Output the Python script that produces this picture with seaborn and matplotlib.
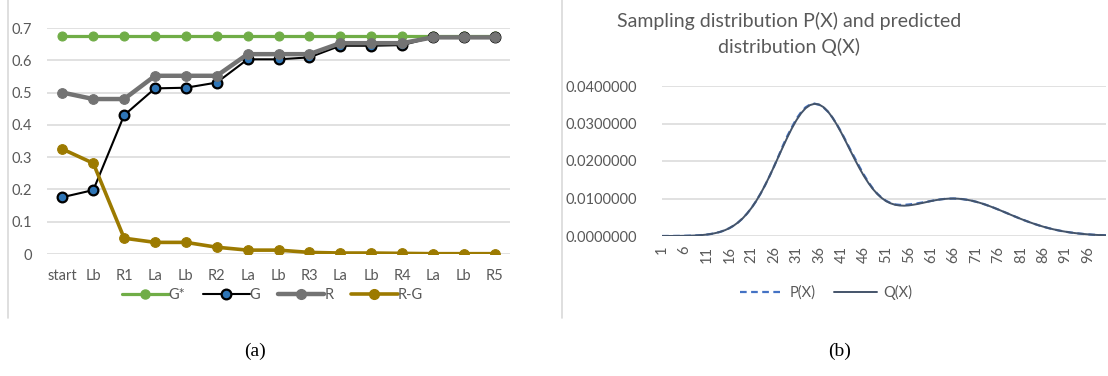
import matplotlib

matplotlib.use("Agg")
import matplotlib.pyplot as plt
import numpy as np
import pandas as pd
import seaborn as sns
from matplotlib.lines import Line2D

sns.set_theme(style="white")
plt.rcParams["font.family"] = ["Lato", "DejaVu Sans"]

# --- panel (a): optimisation stages ---------------------------------------
etapas = ["start", "Lb", "R1", "La", "Lb", "R2", "La", "Lb", "R3",
          "La", "Lb", "R4", "La", "Lb", "R5"]
g_star = [0.675] * 15
g = [0.176, 0.198, 0.430, 0.513, 0.515, 0.531, 0.603, 0.603, 0.609,
     0.645, 0.645, 0.647, 0.671, 0.671, 0.671]
r = [0.500, 0.480, 0.480, 0.552, 0.552, 0.552, 0.619, 0.619, 0.619,
     0.653, 0.653, 0.653, 0.671, 0.671, 0.671]
r_menos_g = [0.325, 0.281, 0.049, 0.036, 0.036, 0.021, 0.012, 0.012, 0.005,
             0.003, 0.003, 0.002, 0.001, 0.001, 0.001]

# --- panel (b): distributions ---------------------------------------------
x_dist = list(range(1, 101))
q_x = [0.00000, 0.00001, 0.00001, 0.00002, 0.00003, 0.00005, 0.00008, 0.00012, 0.00018, 0.00026,
       0.00039, 0.00056, 0.00080, 0.00111, 0.00153, 0.00208, 0.00278, 0.00365, 0.00472, 0.00603,
       0.00756, 0.00933, 0.01134, 0.01358, 0.01601, 0.01858, 0.02122, 0.02387, 0.02643, 0.02882,
       0.03094, 0.03271, 0.03406, 0.03491, 0.03525, 0.03507, 0.03437, 0.03319, 0.03159, 0.02966,
       0.02748, 0.02515, 0.02276, 0.02040, 0.01814, 0.01605, 0.01418, 0.01256, 0.01121, 0.01012,
       0.00928, 0.00870, 0.00832, 0.00813, 0.00808, 0.00816, 0.00833, 0.00854, 0.00880, 0.00906,
       0.00932, 0.00955, 0.00974, 0.00988, 0.00997, 0.00999, 0.00995, 0.00983, 0.00966, 0.00943,
       0.00914, 0.00880, 0.00841, 0.00798, 0.00753, 0.00705, 0.00655, 0.00605, 0.00554, 0.00505,
       0.00456, 0.00410, 0.00366, 0.00324, 0.00285, 0.00249, 0.00216, 0.00186, 0.00159, 0.00135,
       0.00114, 0.00095, 0.00079, 0.00066, 0.00054, 0.00044, 0.00035, 0.00028, 0.00023, 0.00018]
p_x = [0.00000, 0.00001, 0.00001, 0.00002, 0.00003, 0.00005, 0.00008, 0.00012, 0.00018, 0.00026,
       0.00039, 0.00056, 0.00080, 0.00111, 0.00153, 0.00208, 0.00278, 0.00365, 0.00472, 0.00603,
       0.00756, 0.00933, 0.01134, 0.01358, 0.01601, 0.01860, 0.02135, 0.02420, 0.02680, 0.02910,
       0.03130, 0.03300, 0.03430, 0.03505, 0.03530, 0.03500, 0.03430, 0.03315, 0.03160, 0.02975,
       0.02765, 0.02535, 0.02300, 0.02075, 0.01850, 0.01635, 0.01440, 0.01270, 0.01130, 0.01018,
       0.00935, 0.00878, 0.00842, 0.00830, 0.00830, 0.00840, 0.00855, 0.00872, 0.00893, 0.00913,
       0.00935, 0.00956, 0.00975, 0.00988, 0.00997, 0.00999, 0.00995, 0.00983, 0.00966, 0.00943,
       0.00914, 0.00880, 0.00841, 0.00798, 0.00753, 0.00705, 0.00655, 0.00605, 0.00554, 0.00505,
       0.00456, 0.00410, 0.00366, 0.00324, 0.00285, 0.00249, 0.00216, 0.00186, 0.00159, 0.00135,
       0.00114, 0.00095, 0.00079, 0.00066, 0.00054, 0.00044, 0.00035, 0.00028, 0.00023, 0.00018]

GRIS_TXT = "#595959"
GRIS_GRID = "#D9D9D9"

fig = plt.figure(figsize=(11.08, 3.76), dpi=100)

# marcos grises de las dos figuras de Excel
for xf in (8 / 1108, 562 / 1108):
    fig.add_artist(Line2D([xf, xf], [1 - 318 / 376, 1.0], color=GRIS_GRID, lw=1.2))

# ---------------- (a) ----------------
ax1 = fig.add_axes([47 / 1108, 1 - 254 / 376, 463 / 1108, 226 / 376])
pos = np.arange(len(etapas))
series = [
    ("G*", g_star, dict(color="#70AD47", lw=2.3, marker="o", ms=6.5,
                        markerfacecolor="#70AD47", markeredgecolor="#70AD47")),
    ("G", g, dict(color="black", lw=1.5, marker="o", ms=7,
                  markerfacecolor="#2E75B6", markeredgecolor="black", markeredgewidth=1.6)),
    ("R", r, dict(color="#737373", lw=3.2, marker="o", ms=7,
                  markerfacecolor="#737373", markeredgecolor="#737373")),
    ("R-G", r_menos_g, dict(color="#9C7A00", lw=2.6, marker="o", ms=7,
                            markerfacecolor="#9C7A00", markeredgecolor="#9C7A00")),
]
handles = []
for nombre, vals, estilo in series:
    sns.lineplot(x=pos, y=vals, ax=ax1, **estilo)
    handles.append(Line2D([], [], label=nombre, **estilo))

ax1.set_xlim(-0.5, len(etapas) - 0.5)
ax1.set_ylim(0, 0.7)
ax1.set_yticks(np.arange(0, 0.71, 0.1))
ax1.set_yticklabels(["0"] + [f"{v:.1f}" for v in np.arange(0.1, 0.71, 0.1)])
ax1.set_xticks(pos)
ax1.set_xticklabels(etapas)
ax1.yaxis.grid(True, color=GRIS_GRID, lw=1.1)
ax1.set_axisbelow(True)
for s in ax1.spines.values():
    s.set_visible(False)
ax1.tick_params(axis="x", length=0, pad=11, labelsize=10.5, labelcolor=GRIS_TXT)
ax1.tick_params(axis="y", length=0, pad=11, labelsize=10.5, labelcolor=GRIS_TXT)
ax1.legend(handles=handles, loc="center", bbox_to_anchor=(0.487, -0.18), ncol=4,
           frameon=False, handlelength=3.2, handletextpad=0.0, columnspacing=1.2,
           fontsize=10.5, labelcolor=GRIS_TXT)

# ---------------- (b) ----------------
ax2 = fig.add_axes([662 / 1108, 1 - 236 / 376, 444 / 1108, 150 / 376])
sns.lineplot(x=x_dist, y=p_x, ax=ax2, color="#4472C4", lw=1.6,
             linestyle=(0, (3, 2)), label="P(X)")
sns.lineplot(x=x_dist, y=q_x, ax=ax2, color="#44546A", lw=1.4, label="Q(X)")
ax2.set_xlim(1, 100)
ax2.set_ylim(0, 0.04)
ax2.set_yticks(np.arange(0, 0.0401, 0.01))
ax2.set_yticklabels([f"{v:.7f}" for v in np.arange(0, 0.0401, 0.01)])
ax2.set_xticks(list(range(1, 100, 5)))
ax2.set_xticklabels([str(v) for v in range(1, 100, 5)], rotation=90)
ax2.yaxis.grid(True, color=GRIS_GRID, lw=1.1)
ax2.set_axisbelow(True)
for s in ax2.spines.values():
    s.set_visible(False)
ax2.tick_params(axis="x", length=0, pad=7, labelsize=10.5, labelcolor=GRIS_TXT)
ax2.tick_params(axis="y", length=0, pad=18, labelsize=10.5, labelcolor=GRIS_TXT)
ax2.legend(loc="center", bbox_to_anchor=(0.37, -0.375), ncol=2, frameon=False,
           handlelength=3.0, handletextpad=0.4, columnspacing=1.2,
           fontsize=10.5, labelcolor=GRIS_TXT)
fig.text(789 / 1108, 1 - 34 / 376,
         "Sampling distribution P(X) and predicted\ndistribution Q(X)",
         ha="center", va="center", fontsize=14, color=GRIS_TXT, linespacing=1.5)

# captions
for xc, txt in ((255, "(a)"), (840, "(b)")):
    fig.text(xc / 1108, 1 - 351 / 376, txt, ha="center", va="center",
             fontsize=14, family="Liberation Serif", color="black")

fig.savefig("out.png", dpi=100)
